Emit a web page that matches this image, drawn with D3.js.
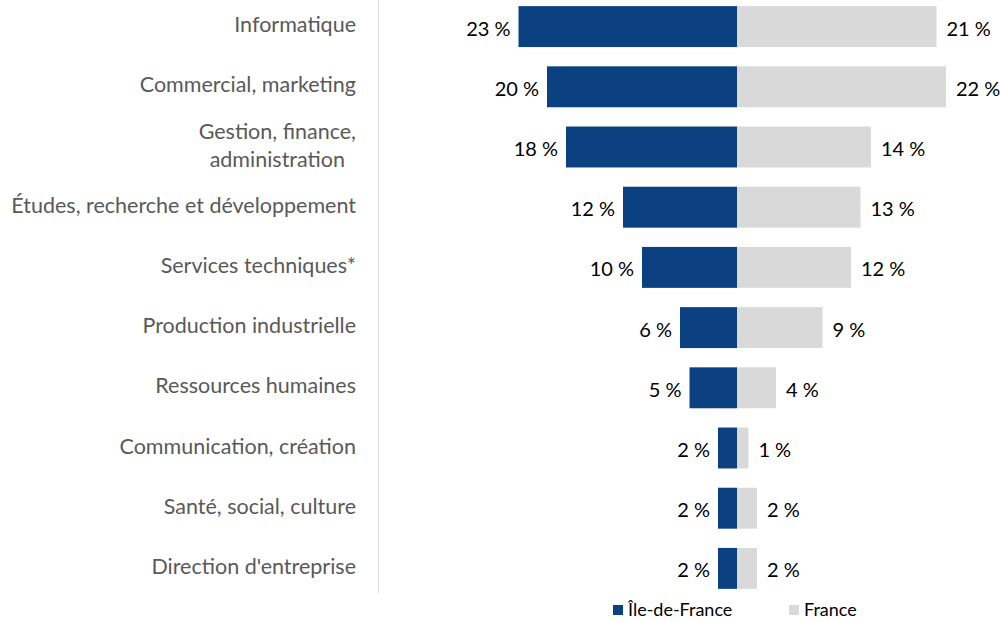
<!DOCTYPE html>
<html>
<head>
<meta charset="utf-8">
<script src="https://cdn.jsdelivr.net/npm/d3@7"></script>
<style>
  body { margin: 0; background: #fff; }
  svg { display: block; font-family: Lato, "Open Sans", sans-serif; }
</style>
</head>
<body>
<div id="chart"></div>
<script>
// categories, top to bottom
var categories = [
    "Informatique",
    "Commercial, marketing",
    "Gestion, finance,|administration",
    "Études, recherche et développement",
    "Services techniques*",
    "Production industrielle",
    "Ressources humaines",
    "Communication, création",
    "Santé, social, culture",
    "Direction d'entreprise"
];
// share of recruitments, %
var idf = [23.0, 20.0, 18.0, 12.0, 10.0, 6.0, 5.0, 2.0, 2.0, 2.0];
var france = [21.0, 22.0, 14.1, 13.0, 12.0, 9.0, 4.1, 1.2, 2.1, 2.1];
var series = ["Île-de-France", "France"];
var colors = ["#0b4081", "#d9d9d9"];

var width = 1000, height = 622;
var mid = 737;

var svg = d3.select("#chart").append("svg")
    .attr("width", width)
    .attr("height", height);

var xr = d3.scaleLinear().domain([0, 25]).range([mid, mid + 237.5]);
var xl = d3.scaleLinear().domain([0, 25]).range([mid, mid - 237.5]);
var y = d3.scaleBand()
    .domain(categories)
    .range([-3.5, 598.5])
    .paddingInner(0.32)
    .paddingOuter(0.16);

var rows = categories.map(function(c, i){
    return {cat: c, idf: idf[i], fr: france[i]};
});

// separator line
svg.append("line")
    .attr("x1", 378.5).attr("x2", 378.5)
    .attr("y1", 0).attr("y2", 593)
    .attr("stroke", "#d9d9d9")
    .attr("stroke-width", 1);

// France bars (right)
svg.selectAll("rect.fr").data(rows).enter().append("rect")
    .attr("class", "fr")
    .attr("x", mid)
    .attr("y", function(d){ return y(d.cat); })
    .attr("width", function(d){ return xr(d.fr) - mid; })
    .attr("height", y.bandwidth())
    .attr("fill", colors[1]);

// Ile-de-France bars (left)
svg.selectAll("rect.idf").data(rows).enter().append("rect")
    .attr("class", "idf")
    .attr("x", function(d){ return xl(d.idf); })
    .attr("y", function(d){ return y(d.cat); })
    .attr("width", function(d){ return mid - xl(d.idf); })
    .attr("height", y.bandwidth())
    .attr("fill", colors[0]);

var fmt = function(v){ return Math.round(v) + " %"; };

svg.selectAll("text.vl").data(rows).enter().append("text")
    .attr("x", function(d){ return xl(d.idf) - 8; })
    .attr("y", function(d){ return y(d.cat) + y.bandwidth() / 2 + 2; })
    .attr("dy", "0.35em")
    .attr("text-anchor", "end")
    .attr("font-size", 20)
    .attr("fill", "#000")
    .text(function(d){ return fmt(d.idf); });

svg.selectAll("text.vr").data(rows).enter().append("text")
    .attr("x", function(d){ return xr(d.fr) + 10; })
    .attr("y", function(d){ return y(d.cat) + y.bandwidth() / 2 + 2; })
    .attr("dy", "0.35em")
    .attr("text-anchor", "start")
    .attr("font-size", 20)
    .attr("fill", "#000")
    .text(function(d){ return fmt(d.fr); });

// category labels
var cat = svg.selectAll("text.cat").data(rows).enter().append("text")
    .attr("class", "cat")
    .attr("font-size", 21.5)
    .attr("fill", "#595959")
    .attr("text-anchor", "end")
    .attr("y", function(d){ return y(d.cat) + y.bandwidth() / 2 - 2; });

cat.each(function(d){
    var lines = d.cat.split("|");
    var t = d3.select(this);
    if (lines.length == 1) {
        t.attr("x", 356).attr("dy", "0.35em").text(lines[0]);
        return;
    }
    // two lines, centred on each other
    t.attr("text-anchor", "middle");
    var tmp = t.append("tspan").text(lines[0]);
    var w = tmp.node().getComputedTextLength();
    tmp.remove();
    var cx = 356 - w / 2;
    lines.forEach(function(l, j){
        t.append("tspan")
            .attr("x", cx)
            .attr("dy", j == 0 ? "-0.3em" : "1.3em")
            .text(l);
    });
});

// legend
var leg = svg.selectAll("g.leg").data(series).enter().append("g")
    .attr("transform", function(d, i){ return "translate(" + [613 + i * 176, 605] + ")"; });
leg.append("rect")
    .attr("width", 10).attr("height", 10)
    .attr("fill", function(d, i){ return colors[i]; });
leg.append("text")
    .attr("x", 15).attr("y", 11)
    .attr("font-size", 18)
    .attr("fill", "#000")
    .text(function(d){ return d; });
</script>
</body>
</html>
